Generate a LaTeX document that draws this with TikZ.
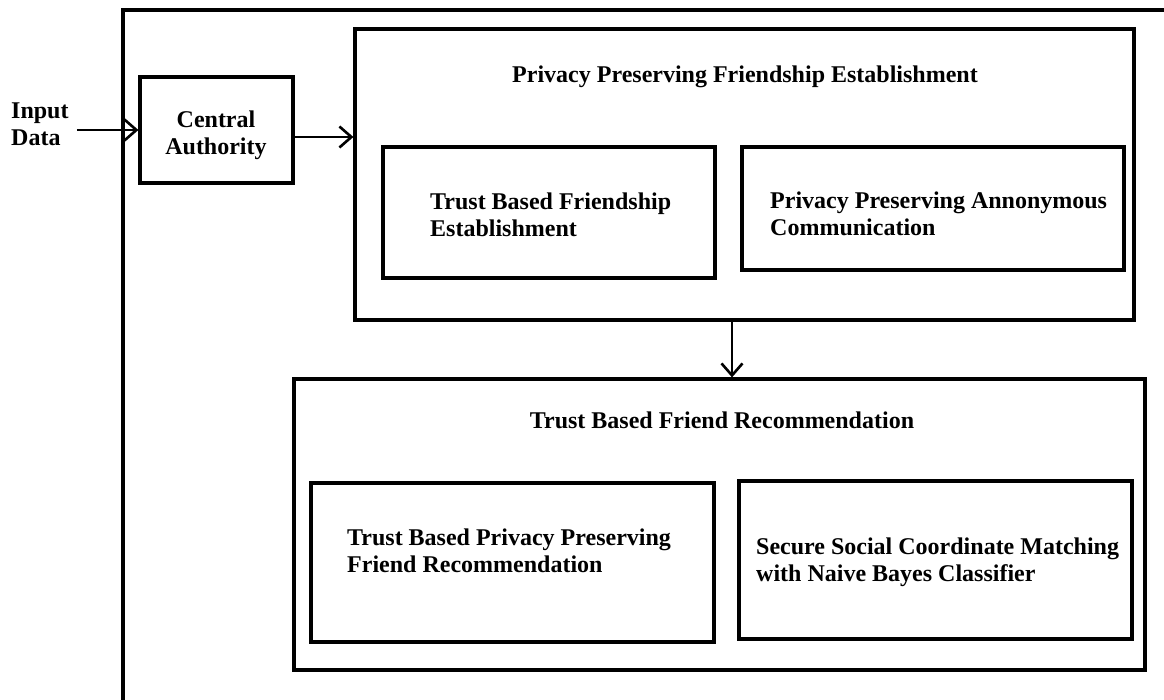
\documentclass[tikz,border=0pt]{standalone}
\usepackage{fontspec}
\setmainfont{Liberation Serif}
\usetikzlibrary{arrows.meta}
\tikzset{
  frame/.style={draw, line width=3.2pt, inner sep=0pt},
  txt/.style={font=\fontsize{24}{27}\selectfont\bfseries, align=left, inner sep=0pt},
  ctxt/.style={txt, align=center},
  arr/.style={line width=2.6pt, -{Straight Barb[length=12pt,width=21pt,line width=2.6pt]}}
}
\begin{document}
\begin{tikzpicture}[x=1pt,y=-1pt]
\useasboundingbox[fill=white] (0,0) rectangle (1164,700);
% outer frame (cut by the picture edges)
\draw[line width=3.2pt] (123,700) -- (123,10) -- (1164,10);

\node[frame, minimum width=153pt, minimum height=106pt] (ca) at (216.5,130) {};
\node[ctxt] (catxt) at (216,135) {Central\\Authority};
\node[txt, anchor=west] (inp) at (11,124) {Input\\Data};

\node[frame, minimum width=779pt, minimum height=291pt] (ppfe) at (744.5,174.5) {};
\node[ctxt] (ppfetxt) at (745,77) {Privacy Preserving Friendship Establishment};
\node[frame, minimum width=332pt, minimum height=131pt] (b1) at (549,212.5) {};
\node[txt, anchor=west] (b1txt) at (430,215) {Trust Based Friendship\\Establishment};
\node[frame, minimum width=382pt, minimum height=123pt] (b2) at (933,208.5) {};
\node[txt, anchor=west] (b2txt) at (770,214) {Privacy Preserving Annonymous\\Communication};

\node[frame, minimum width=851pt, minimum height=291pt] (tbfr) at (719.5,524.5) {};
\node[ctxt] (tbfrtxt) at (722,420) {Trust Based Friend Recommendation};
\node[frame, minimum width=403pt, minimum height=159pt] (b3) at (512.5,562.5) {};
\node[txt, anchor=west] (b3txt) at (347,551) {Trust Based Privacy Preserving\\Friend Recommendation};
\node[frame, minimum width=393pt, minimum height=158pt] (b4) at (935.5,560) {};
\node[txt, anchor=west] (b4txt) at (756,562) {Secure Social Coordinate Matching\\with Naive Bayes Classifier};

\draw[arr] ([xshift=8pt]inp.east |- ca.west) -- (ca.west);
\draw[arr] ([yshift=-7pt]ca.east) -- ([yshift=-7pt]ca.east -| ppfe.west);
\coordinate (dx) at (732,0);
\draw[arr] (ppfe.south -| dx) -- (tbfr.north -| dx);
\end{tikzpicture}
\end{document}
